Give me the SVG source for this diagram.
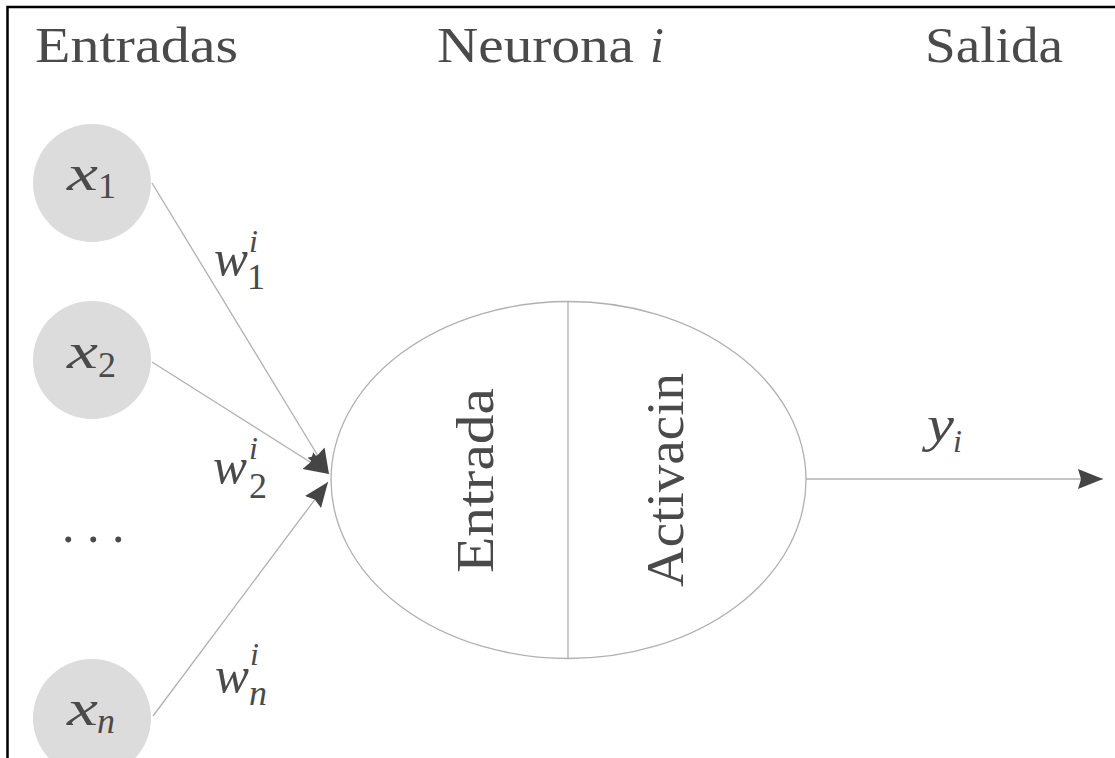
<svg xmlns="http://www.w3.org/2000/svg" width="1115" height="758" viewBox="0 0 1115 758">
  <style>
    .t { font-family: "Liberation Serif", "DejaVu Serif", serif; fill: #4a4a4a; }
    .m { font-family: "Liberation Serif", "DejaVu Serif", serif; font-style: italic; fill: #4a4a4a; }
    .inp { fill: #dcdcdc; stroke: none; }
    .edge { stroke: #b0b0b0; stroke-width: 1.3; fill: none; }
  </style>
  <defs>
    <marker id="ah" markerUnits="userSpaceOnUse" markerWidth="30" markerHeight="24" refX="25" refY="10" orient="auto">
      <path d="M0,0 L25,10 L0,20 L3,10 Z" fill="#454545"/>
    </marker>
  </defs>
  <rect width="1115" height="758" fill="#ffffff"/>
  <path d="M7.5,758 V7 H1115" fill="none" stroke="#000" stroke-width="2.5"/>

  <g id="titles">
    <text class="t" x="35" y="62" font-size="50" textLength="203" lengthAdjust="spacingAndGlyphs">Entradas</text>
    <text class="t" x="437" y="62" font-size="50" textLength="197" lengthAdjust="spacingAndGlyphs">Neurona</text>
    <text class="m" x="650" y="62" font-size="50">i</text>
    <text class="t" x="925" y="62" font-size="50" textLength="138" lengthAdjust="spacingAndGlyphs">Salida</text>
  </g>

  <g id="connectors">
    <line class="edge" x1="152" y1="183" x2="329" y2="474" marker-end="url(#ah)"/>
    <line class="edge" x1="152" y1="362" x2="329" y2="474" marker-end="url(#ah)"/>
    <line class="edge" x1="153" y1="716" x2="328" y2="482" marker-end="url(#ah)"/>
    <line class="edge" x1="806" y1="479" x2="1103" y2="479" marker-end="url(#ah)"/>
  </g>

  <g id="input-x1">
    <circle class="inp" cx="92" cy="183" r="59"/>
    <text class="m" x="67" y="190" font-size="50" textLength="31" lengthAdjust="spacingAndGlyphs">x</text>
    <text class="t" x="98" y="198" font-size="36">1</text>
  </g>
  <g id="input-x2">
    <circle class="inp" cx="92" cy="360" r="59"/>
    <text class="m" x="67" y="368" font-size="50" textLength="31" lengthAdjust="spacingAndGlyphs">x</text>
    <text class="t" x="98" y="377" font-size="36">2</text>
  </g>
  <g id="dots">
    <text class="t" x="62" y="542" font-size="50">. . .</text>
  </g>
  <g id="input-xn">
    <circle class="inp" cx="92" cy="718" r="59"/>
    <text class="m" x="67" y="725" font-size="50" textLength="31" lengthAdjust="spacingAndGlyphs">x</text>
    <text class="m" x="97" y="733" font-size="36">n</text>
  </g>

  <g id="weights">
    <text class="m" x="214" y="275" font-size="50" textLength="34" lengthAdjust="spacingAndGlyphs">w</text>
    <text class="m" x="249" y="252" font-size="32">i</text>
    <text class="t" x="247" y="289" font-size="36">1</text>
    <text class="m" x="213" y="483" font-size="50" textLength="34" lengthAdjust="spacingAndGlyphs">w</text>
    <text class="m" x="249" y="459" font-size="32">i</text>
    <text class="t" x="249" y="498" font-size="36">2</text>
    <text class="m" x="215" y="692" font-size="50" textLength="34" lengthAdjust="spacingAndGlyphs">w</text>
    <text class="m" x="250" y="665" font-size="32">i</text>
    <text class="m" x="249" y="705" font-size="36">n</text>
  </g>

  <g id="neuron">
    <ellipse cx="568.5" cy="480" rx="237.5" ry="178.5" fill="none" stroke="#b0b0b0" stroke-width="1.3"/>
    <line x1="568" y1="301" x2="568" y2="659" stroke="#b0b0b0" stroke-width="1.3"/>
    <text class="t" transform="translate(493,573) rotate(-90)" font-size="52" textLength="185" lengthAdjust="spacingAndGlyphs">Entrada</text>
    <text class="t" transform="translate(683,587) rotate(-90)" font-size="52" textLength="214" lengthAdjust="spacingAndGlyphs">Activacin</text>
  </g>

  <g id="output">
    <text class="m" x="927" y="441" font-size="50" textLength="27" lengthAdjust="spacingAndGlyphs">y</text>
    <text class="m" x="953" y="452" font-size="32">i</text>
  </g>
</svg>
